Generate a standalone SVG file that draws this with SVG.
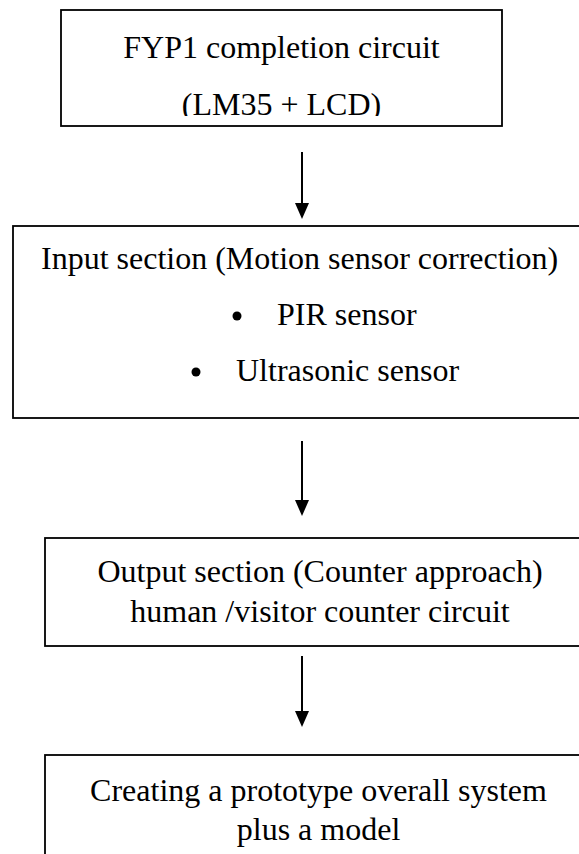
<svg xmlns="http://www.w3.org/2000/svg" width="579" height="854" viewBox="0 0 579 854">
<defs>
<style>
.box{fill:#fff;stroke:#000;stroke-width:1.8}
.t{font-family:"Liberation Serif","Times New Roman",serif;font-size:32px;fill:#000}
.m{text-anchor:middle}
.c{stroke:#000;stroke-width:2;fill:none}
.h{fill:#000}
</style>
<clipPath id="clip1"><rect x="61" y="10" width="441" height="106"/></clipPath>
</defs>
<rect width="579" height="854" fill="#fff"/>
<g id="connectors">
<line class="c" x1="302" y1="152" x2="302" y2="205"/>
<path class="h" d="M295,203 L309,203 L302,219 Z"/>
<line class="c" x1="302" y1="441" x2="302" y2="502"/>
<path class="h" d="M295,500 L309,500 L302,516 Z"/>
<line class="c" x1="302" y1="656" x2="302" y2="713"/>
<path class="h" d="M295,711 L309,711 L302,727 Z"/>
</g>
<g id="n1">
<rect class="box" x="61" y="10" width="441" height="116"/>
<text class="t m" x="281.5" y="58">FYP1 completion circuit</text>
<text class="t m" x="281.5" y="115" clip-path="url(#clip1)">(LM35 + LCD)</text>
</g>
<g id="n2">
<rect class="box" x="13" y="226" width="573" height="192"/>
<text class="t m" x="299.6" y="269">Input section (Motion sensor correction)</text>
<circle cx="237" cy="316" r="4.5"/>
<text class="t" x="277" y="325">PIR sensor</text>
<circle cx="196" cy="372" r="4.5"/>
<text class="t" x="236" y="381">Ultrasonic sensor</text>
</g>
<g id="n3">
<rect class="box" x="45" y="538" width="550" height="108"/>
<text class="t m" x="320" y="582">Output section (Counter approach)</text>
<text class="t m" x="320" y="622">human /visitor counter circuit</text>
</g>
<g id="n4">
<rect class="box" x="45" y="755" width="548" height="120"/>
<text class="t m" x="318.5" y="801">Creating a prototype overall system</text>
<text class="t m" x="318.5" y="840">plus a model</text>
</g>
</svg>
